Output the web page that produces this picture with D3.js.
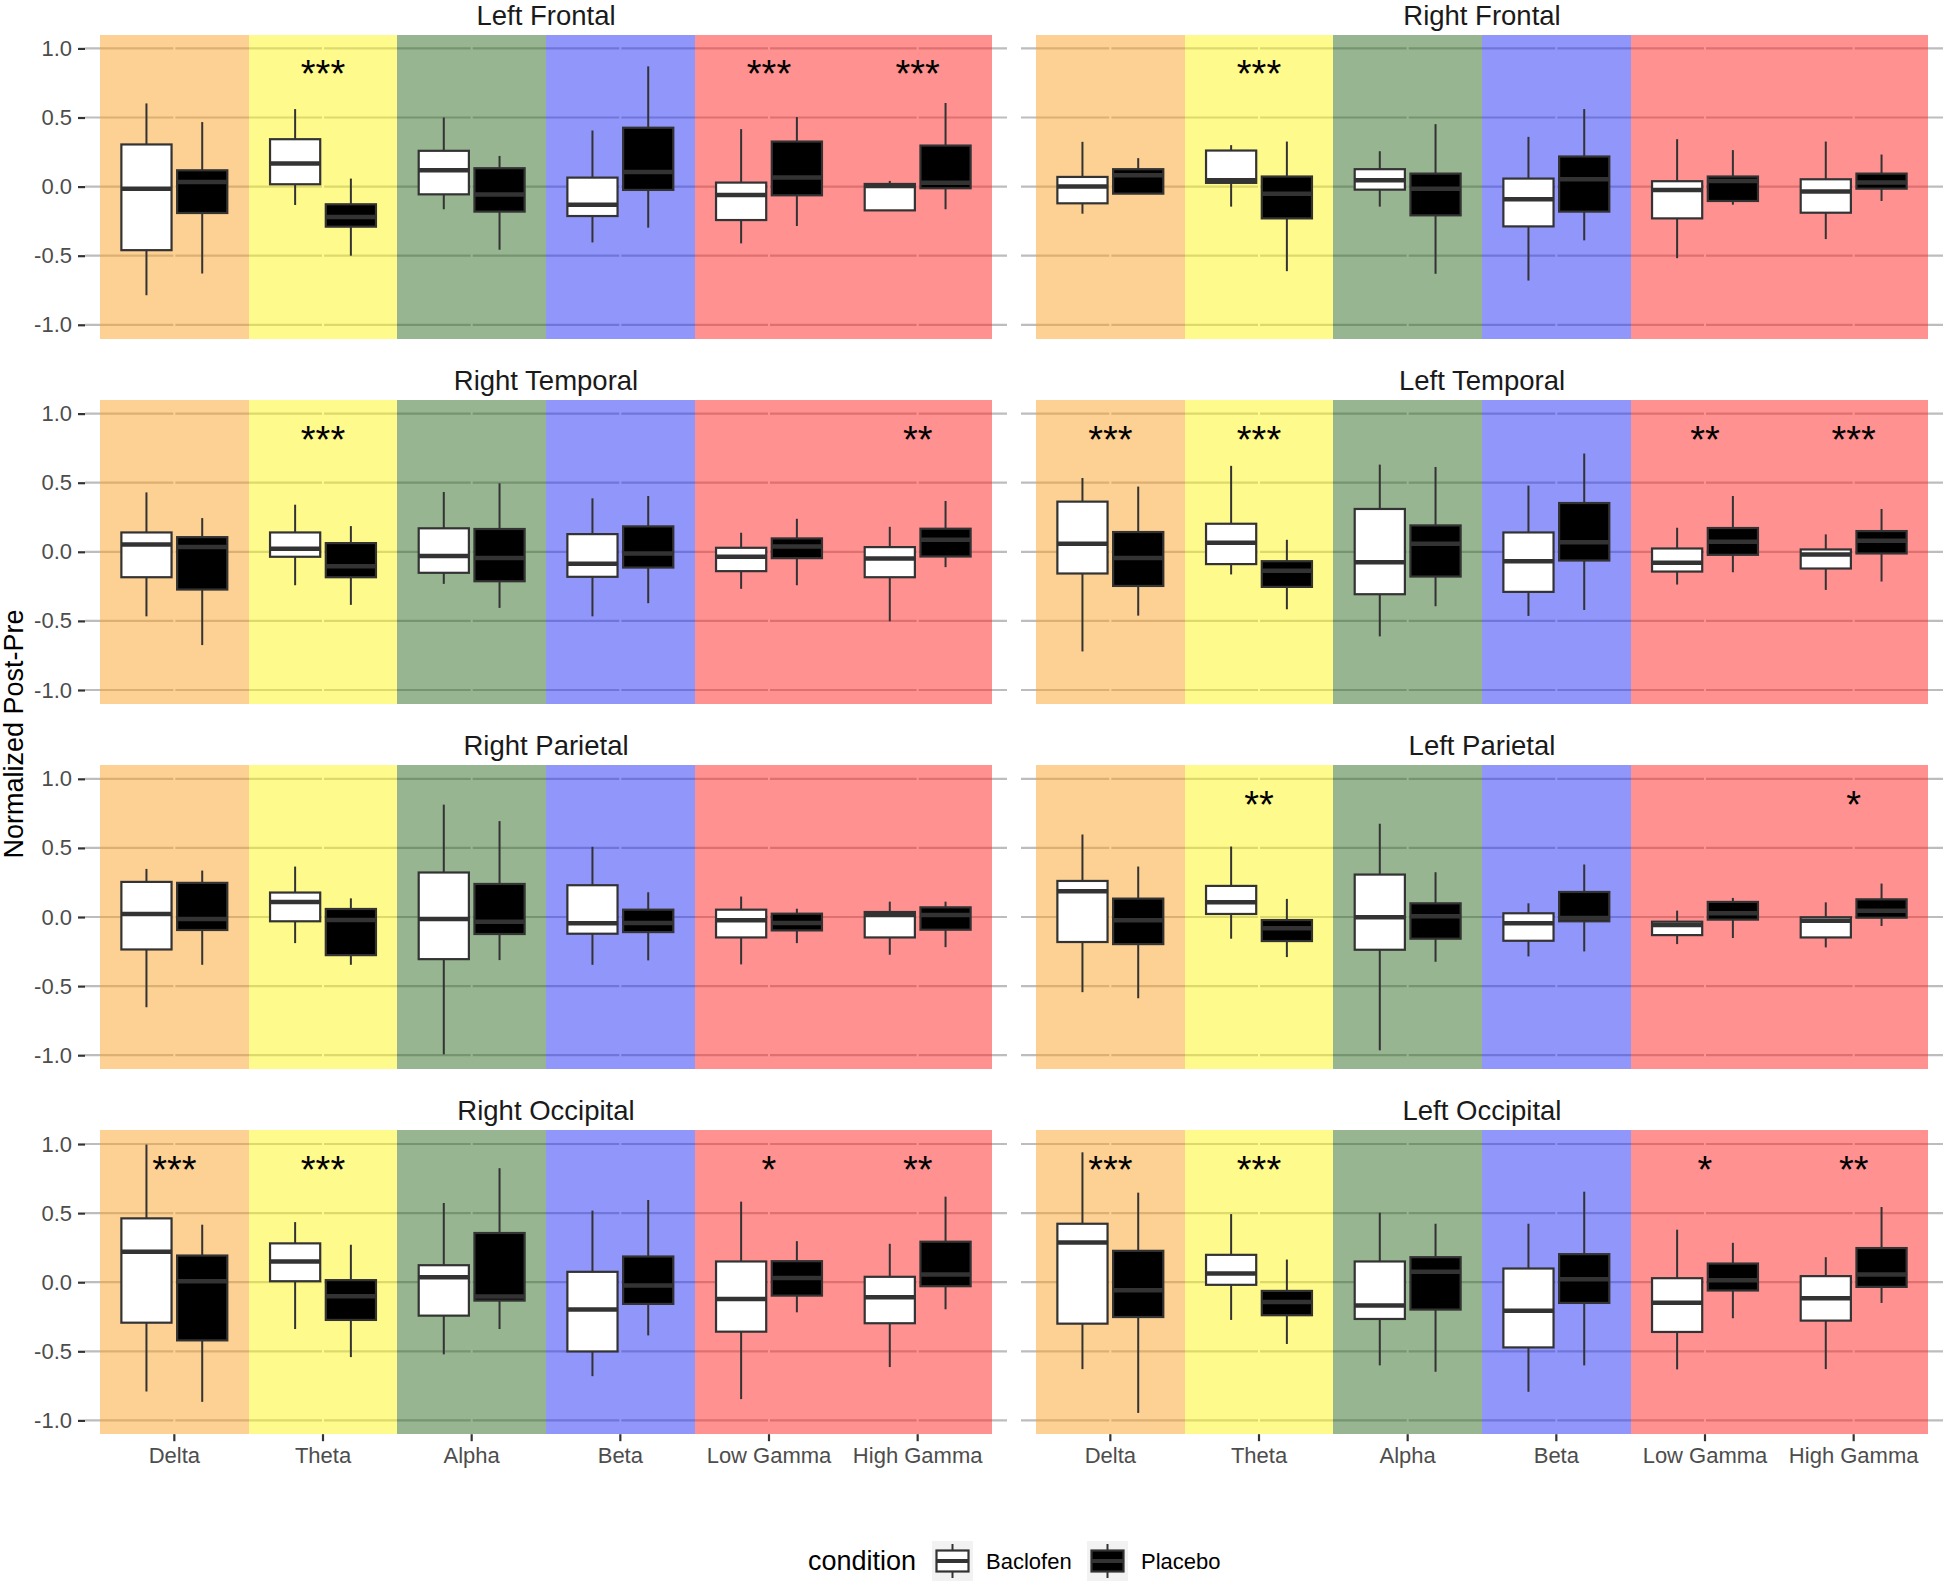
<!DOCTYPE html>
<html><head><meta charset="utf-8">
<script src="https://cdn.jsdelivr.net/npm/d3@7"></script>
<style>
body{margin:0;background:#fff;}
svg{display:block;font-family:"Liberation Sans",Arial,Helvetica,sans-serif;}
</style>
</head><body>
<svg id="chart" width="1944" height="1583"></svg>
<script>
// ---------------- DATA ----------------
const regions = ["Left Frontal","Right Frontal","Right Temporal","Left Temporal",
                 "Right Parietal","Left Parietal","Right Occipital","Left Occipital"];
const bands = ["Delta","Theta","Alpha","Beta","Low Gamma","High Gamma"];
const conditions = ["Baclofen","Placebo"];
const yTickValues = [-1.0,-0.5,0.0,0.5,1.0];

// each entry: [lower whisker, Q1, median, Q3, upper whisker], one per band
const leftFrontalBaclofen = [[-0.786,-0.46,-0.015,0.305,0.602],[-0.133,0.017,0.167,0.343,0.561],[-0.164,-0.056,0.118,0.259,0.5],[-0.404,-0.213,-0.131,0.065,0.406],[-0.411,-0.242,-0.06,0.029,0.416],[-0.172,-0.172,0.005,0.019,0.041]];
const leftFrontalPlacebo = [[-0.629,-0.191,0.034,0.118,0.467],[-0.5,-0.29,-0.22,-0.128,0.058],[-0.457,-0.181,-0.058,0.133,0.222],[-0.297,-0.024,0.106,0.426,0.87],[-0.285,-0.063,0.065,0.326,0.503],[-0.164,-0.012,0.027,0.297,0.605]];
const rightFrontalBaclofen = [[-0.196,-0.121,0.0,0.07,0.324],[-0.145,0.027,0.046,0.261,0.3],[-0.145,-0.022,0.046,0.126,0.256],[-0.68,-0.288,-0.092,0.058,0.36],[-0.518,-0.23,-0.024,0.039,0.343],[-0.38,-0.189,-0.036,0.053,0.326]];
const rightFrontalPlacebo = [[-0.051,-0.051,0.082,0.126,0.206],[-0.612,-0.23,-0.051,0.073,0.326],[-0.631,-0.208,-0.015,0.094,0.452],[-0.389,-0.181,0.053,0.218,0.561],[-0.131,-0.104,0.041,0.073,0.264],[-0.104,-0.015,0.029,0.094,0.232]];
const rightTemporalBaclofen = [[-0.467,-0.184,0.053,0.14,0.43],[-0.242,-0.036,0.022,0.14,0.341],[-0.232,-0.152,-0.031,0.17,0.433],[-0.467,-0.181,-0.087,0.128,0.387],[-0.268,-0.14,-0.036,0.029,0.138],[-0.503,-0.184,-0.048,0.034,0.181]];
const rightTemporalPlacebo = [[-0.675,-0.273,0.034,0.106,0.244],[-0.384,-0.184,-0.104,0.063,0.186],[-0.406,-0.213,-0.044,0.165,0.496],[-0.372,-0.114,-0.012,0.184,0.404],[-0.242,-0.046,0.039,0.097,0.239],[-0.111,-0.034,0.087,0.167,0.368]];
const leftTemporalBaclofen = [[-0.721,-0.157,0.058,0.363,0.534],[-0.164,-0.089,0.065,0.203,0.622],[-0.612,-0.307,-0.075,0.31,0.631],[-0.464,-0.29,-0.068,0.14,0.479],[-0.237,-0.143,-0.08,0.024,0.174],[-0.276,-0.121,-0.019,0.017,0.126]];
const leftTemporalPlacebo = [[-0.462,-0.247,-0.044,0.143,0.472],[-0.416,-0.254,-0.138,-0.068,0.087],[-0.394,-0.179,0.058,0.191,0.614],[-0.421,-0.063,0.07,0.353,0.711],[-0.148,-0.022,0.073,0.172,0.404],[-0.215,-0.012,0.08,0.15,0.31]];
const rightParietalBaclofen = [[-0.653,-0.235,0.022,0.254,0.348],[-0.189,-0.031,0.109,0.177,0.365],[-0.994,-0.305,-0.015,0.322,0.813],[-0.346,-0.121,-0.046,0.23,0.508],[-0.343,-0.148,-0.024,0.053,0.148],[-0.273,-0.148,0.015,0.036,0.111]];
const rightParietalPlacebo = [[-0.346,-0.094,-0.015,0.247,0.336],[-0.346,-0.276,-0.022,0.058,0.135],[-0.312,-0.123,-0.034,0.239,0.694],[-0.314,-0.109,-0.044,0.053,0.179],[-0.189,-0.097,-0.044,0.024,0.06],[-0.218,-0.092,0.015,0.07,0.111]];
const leftParietalBaclofen = [[-0.544,-0.181,0.186,0.261,0.597],[-0.157,0.022,0.106,0.225,0.51],[-0.965,-0.237,-0.002,0.307,0.675],[-0.285,-0.172,-0.046,0.027,0.099],[-0.196,-0.131,-0.058,-0.034,0.046],[-0.22,-0.148,-0.027,-0.002,0.106]];
const leftParietalPlacebo = [[-0.588,-0.196,-0.024,0.133,0.365],[-0.29,-0.174,-0.082,-0.022,0.131],[-0.324,-0.157,0.005,0.099,0.324],[-0.249,-0.031,-0.007,0.181,0.38],[-0.152,-0.019,0.027,0.109,0.138],[-0.065,-0.005,0.046,0.128,0.242]];
const rightOccipitalBaclofen = [[-0.791,-0.293,0.22,0.462,0.996],[-0.339,0.007,0.15,0.281,0.435],[-0.522,-0.242,0.036,0.123,0.573],[-0.68,-0.501,-0.198,0.075,0.518],[-0.846,-0.358,-0.121,0.15,0.583],[-0.614,-0.297,-0.109,0.039,0.278]];
const rightOccipitalPlacebo = [[-0.866,-0.421,0.007,0.193,0.416],[-0.542,-0.273,-0.102,0.015,0.271],[-0.339,-0.133,-0.104,0.356,0.825],[-0.385,-0.157,-0.024,0.186,0.595],[-0.218,-0.097,0.031,0.152,0.297],[-0.196,-0.029,0.056,0.293,0.619]];
const leftOccipitalBaclofen = [[-0.629,-0.3,0.288,0.423,0.94],[-0.273,-0.019,0.063,0.198,0.493],[-0.602,-0.266,-0.169,0.15,0.503],[-0.793,-0.472,-0.206,0.099,0.423],[-0.631,-0.36,-0.148,0.029,0.38],[-0.629,-0.278,-0.116,0.044,0.181]];
const leftOccipitalPlacebo = [[-0.946,-0.252,-0.058,0.227,0.648],[-0.447,-0.239,-0.143,-0.063,0.164],[-0.648,-0.198,0.075,0.181,0.423],[-0.602,-0.15,0.022,0.203,0.655],[-0.261,-0.06,0.015,0.135,0.285],[-0.15,-0.034,0.056,0.247,0.544]];

const significance = [
  ["","***","","","***","***"],
  ["","***","","","",""],
  ["","***","","","","**"],
  ["***","***","","","**","***"],
  ["","","","","",""],
  ["","**","","","","*"],
  ["***","***","","","*","**"],
  ["***","***","","","*","**"]
];
const starLevel = 0.85;

const baclofenByRegion = [leftFrontalBaclofen,rightFrontalBaclofen,rightTemporalBaclofen,leftTemporalBaclofen,rightParietalBaclofen,leftParietalBaclofen,rightOccipitalBaclofen,leftOccipitalBaclofen];
const placeboByRegion = [leftFrontalPlacebo,rightFrontalPlacebo,rightTemporalPlacebo,leftTemporalPlacebo,rightParietalPlacebo,leftParietalPlacebo,rightOccipitalPlacebo,leftOccipitalPlacebo];

// ---------------- STYLE / LAYOUT ----------------
const bandBase = ["#FBA127","#FFF519","#2F6B21","#232DF7","#FF2323","#FF2323"];
const condFill = {"Baclofen":"#ffffff","Placebo":"#000000"};
const panelW = 922, panelH = 304;
const colX = [85, 1021];
const rowTop = i => 34.6 + i*365.2;

const svg = d3.select("#chart");

const x = d3.scaleBand().domain(bands).range([15, panelW-15]).paddingInner(0).paddingOuter(0);
const bw = x.bandwidth();
const xc = d3.scaleBand().domain(conditions).range([0.125*bw, 0.875*bw]).paddingInner(0.1).paddingOuter(0.05);
const y = d3.scaleLinear().domain([-1.1, 1.1]).range([panelH, 0]);

regions.forEach((region, ri) => {
  const col = ri % 2, row = Math.floor(ri/2);
  const g = svg.append("g").attr("transform", `translate(${colX[col]},${rowTop(row)})`);

  // horizontal grid
  g.selectAll("line.hg").data(yTickValues).join("line")
    .attr("x1",0).attr("x2",panelW)
    .attr("y1",d=>y(d)).attr("y2",d=>y(d))
    .attr("stroke","#bdbdbd").attr("stroke-width",2.2);
  // vertical grid (white)
  g.selectAll("line.vg").data(bands).join("line")
    .attr("x1",d=>x(d)+bw/2).attr("x2",d=>x(d)+bw/2)
    .attr("y1",0).attr("y2",panelH)
    .attr("stroke","#ffffff").attr("stroke-width",2);
  // band backgrounds
  g.selectAll("rect.band").data(bands).join("rect")
    .attr("x",d=>x(d)).attr("y",0).attr("width",bw).attr("height",panelH)
    .attr("fill",(d,i)=>bandBase[i]).attr("fill-opacity",0.5)
    .attr("shape-rendering","crispEdges");

  // boxes
  const series = [baclofenByRegion[ri], placeboByRegion[ri]];
  conditions.forEach((cond, ci) => {
    const data = series[ci].map((v,bi)=>({band:bands[bi], v}));
    const bx = d => x(d.band) + xc(cond);
    const bwid = xc.bandwidth();
    const gb = g.append("g");
    gb.selectAll("line.wu").data(data).join("line")
      .attr("x1",d=>bx(d)+bwid/2).attr("x2",d=>bx(d)+bwid/2)
      .attr("y1",d=>y(d.v[3])).attr("y2",d=>y(d.v[4]))
      .attr("stroke","#333333").attr("stroke-width",2);
    gb.selectAll("line.wl").data(data).join("line")
      .attr("x1",d=>bx(d)+bwid/2).attr("x2",d=>bx(d)+bwid/2)
      .attr("y1",d=>y(d.v[1])).attr("y2",d=>y(d.v[0]))
      .attr("stroke","#333333").attr("stroke-width",2);
    gb.selectAll("rect.box").data(data).join("rect")
      .attr("x",d=>bx(d)).attr("width",bwid)
      .attr("y",d=>y(d.v[3])).attr("height",d=>Math.max(0.5,y(d.v[1])-y(d.v[3])))
      .attr("fill",condFill[cond]).attr("stroke","#333333").attr("stroke-width",2.2);
    gb.selectAll("line.med").data(data).join("line")
      .attr("x1",d=>bx(d)).attr("x2",d=>bx(d)+bwid)
      .attr("y1",d=>y(d.v[2])).attr("y2",d=>y(d.v[2]))
      .attr("stroke","#333333").attr("stroke-width",4.5);
  });

  // significance stars
  const starFs = 38;
  g.selectAll("text.star").data(significance[ri].map((s,i)=>({s,band:bands[i]})).filter(d=>d.s))
    .join("text")
    .attr("x",d=>x(d.band)+bw/2).attr("y",y(starLevel)+0.48*starFs)
    .attr("text-anchor","middle").attr("font-size",starFs).attr("fill","#000")
    .text(d=>d.s);

  // strip title
  g.append("text").attr("x",panelW/2).attr("y",-10)
    .attr("text-anchor","middle").attr("font-size",27.5).attr("fill","#1a1a1a")
    .text(region);

  // y axis
  if (col === 0) {
    const ya = g.append("g").call(d3.axisLeft(y).tickValues(yTickValues).tickSize(7).tickPadding(6).tickFormat(d=>d.toFixed(1)));
    ya.select(".domain").remove();
    ya.selectAll(".tick line").attr("stroke","#333333").attr("stroke-width",2.2);
    ya.selectAll(".tick text").attr("font-size",22).attr("fill","#4d4d4d").attr("font-family",null);
  }
  // x axis
  if (row === 3) {
    const xa = g.append("g").attr("transform",`translate(0,${panelH})`)
      .call(d3.axisBottom(x).tickSize(7).tickPadding(6));
    xa.select(".domain").remove();
    xa.selectAll(".tick line").attr("stroke","#333333").attr("stroke-width",2.2);
    xa.selectAll(".tick text").attr("font-size",22).attr("fill","#4d4d4d").attr("font-family",null);
  }
});

// y axis title
svg.append("text").attr("transform","translate(14,734) rotate(-90)")
  .attr("text-anchor","middle").attr("dy","0.35em").attr("font-size",27).attr("fill","#000")
  .text("Normalized Post-Pre");

// legend
const lg = svg.append("g");
const legY = 1561;
lg.append("text").attr("x",808).attr("y",legY).attr("dy","0.35em").attr("font-size",27).attr("fill","#000").text("condition");
const keyX = [932, 1087], labX = [986, 1141];
conditions.forEach((cond, i) => {
  const k = lg.append("g").attr("transform",`translate(${keyX[i]},${legY-20})`);
  k.append("rect").attr("width",41).attr("height",40).attr("fill","#f2f2f2");
  k.append("line").attr("x1",20.5).attr("x2",20.5).attr("y1",3).attr("y2",37).attr("stroke","#333333").attr("stroke-width",2);
  k.append("rect").attr("x",4.5).attr("y",9.5).attr("width",32).attr("height",21)
    .attr("fill",condFill[cond]).attr("stroke","#333333").attr("stroke-width",2.2);
  k.append("line").attr("x1",4.5).attr("x2",36.5).attr("y1",20).attr("y2",20).attr("stroke","#333333").attr("stroke-width",4);
  lg.append("text").attr("x",labX[i]).attr("y",legY).attr("dy","0.35em").attr("font-size",22).attr("fill","#000").text(cond);
});
</script>
</body></html>
